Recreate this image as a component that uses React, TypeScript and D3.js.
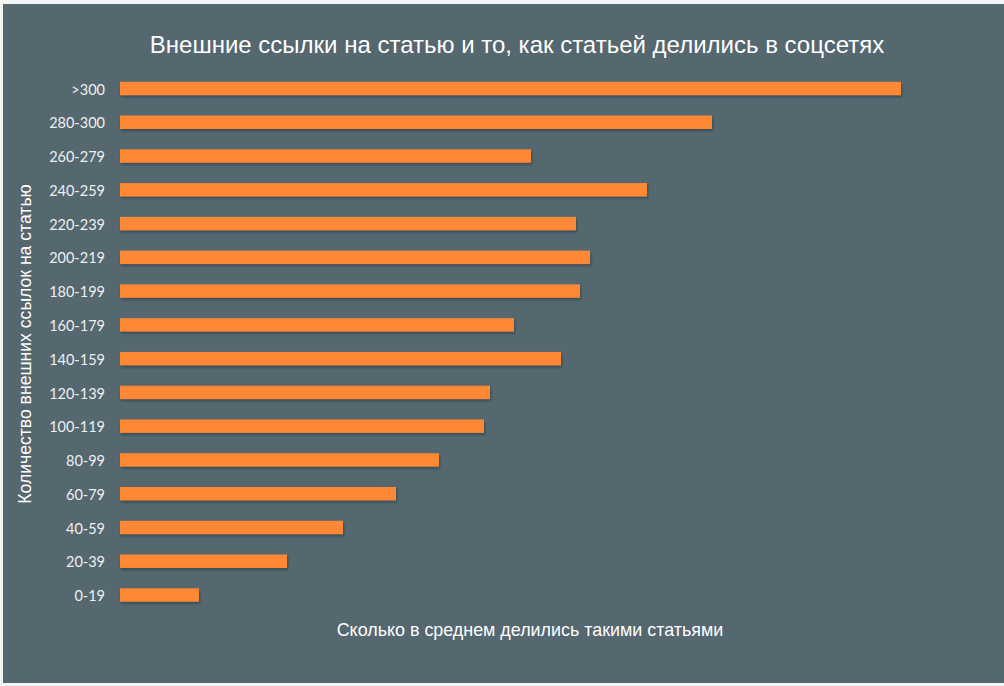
import { useEffect, useRef } from 'react';
import * as d3 from 'd3';

const CATEGORIES = [
    '>300', '280-300', '260-279', '240-259', '220-239', '200-219', '180-199', '160-179',
    '140-159', '120-139', '100-119', '80-99', '60-79', '40-59', '20-39', '0-19',
];

// average shares per article group (no axis in the original)
const SHARES = [781, 592, 411, 527, 456, 470, 460, 394, 441, 370, 364, 319, 276, 223, 167, 79];

const TITLE = 'Внешние ссылки на статью и то, как статьей делились в соцсетях';
const X_LABEL = 'Сколько в среднем делились такими статьями';
const Y_LABEL = 'Количество внешних ссылок на статью';

const WIDTH = 1004;
const HEIGHT = 686;

export default function App() {
    const svgRef = useRef<SVGSVGElement>(null);

    useEffect(() => {
        if (!svgRef.current) return;
        const root = d3.select(svgRef.current);
        root.selectAll('*').remove();

        const defs = root.append('defs');
        defs.append('filter')
            .attr('id', 'barShadow')
            .attr('x', '-5%').attr('y', '-50%')
            .attr('width', '110%').attr('height', '200%')
            .append('feDropShadow')
            .attr('dx', 1).attr('dy', 2)
            .attr('stdDeviation', 1.2)
            .attr('flood-color', '#1e2a31')
            .attr('flood-opacity', 0.45);

        // page + panel background
        root.append('rect').attr('width', WIDTH).attr('height', HEIGHT).attr('fill', '#f4f5f5');
        root.append('rect')
            .attr('x', 3).attr('y', 4)
            .attr('width', WIDTH - 3).attr('height', 679)
            .attr('fill', '#55676f');

        const left = 120;
        const right = 901;

        const x = d3.scaleLinear()
            .domain([0, d3.max(SHARES) as number])
            .range([left, right]);

        const y = d3.scalePoint<string>()
            .domain(CATEGORIES)
            .range([88.5, 595]);

        const barH = 13.4;

        // bars
        root.append('g')
            .selectAll('rect')
            .data(CATEGORIES)
            .enter()
            .append('rect')
            .attr('x', x(0))
            .attr('y', d => (y(d) as number) - barH / 2)
            .attr('width', (d, i) => x(SHARES[i]) - x(0))
            .attr('height', barH)
            .attr('fill', '#fe8834')
            .attr('filter', 'url(#barShadow)');

        // category labels
        const yAxis = d3.axisLeft(y).tickSize(0).tickPadding(15);
        const axisG = root.append('g')
            .attr('transform', `translate(${left}, 1)`)
            .call(yAxis);
        axisG.select('.domain').remove();
        axisG.selectAll('text')
            .attr('fill', '#eef0f1')
            .style('font-family', 'Lato, "Open Sans", sans-serif')
            .style('font-size', '14.5px');

        // title
        root.append('text')
            .attr('x', 517)
            .attr('y', 53)
            .attr('text-anchor', 'middle')
            .attr('fill', '#ffffff')
            .style('font-family', '"Liberation Sans", Arial, sans-serif')
            .style('font-size', '24px')
            .text(TITLE);

        // x label
        root.append('text')
            .attr('x', 530)
            .attr('y', 636)
            .attr('text-anchor', 'middle')
            .attr('fill', '#ffffff')
            .style('font-family', '"Liberation Sans", Arial, sans-serif')
            .style('font-size', '17.9px')
            .text(X_LABEL);

        // y label
        root.append('text')
            .attr('transform', `translate(31, 344) rotate(-90)`)
            .attr('text-anchor', 'middle')
            .attr('fill', '#ffffff')
            .style('font-family', '"Liberation Sans", Arial, sans-serif')
            .style('font-size', '17.6px')
            .text(Y_LABEL);
    }, []);

    return (
        <div>
            <style>{'body { margin: 0; }'}</style>
            <svg ref={svgRef} width={WIDTH} height={HEIGHT} style={{ display: 'block' }}></svg>
        </div>
    );
}
